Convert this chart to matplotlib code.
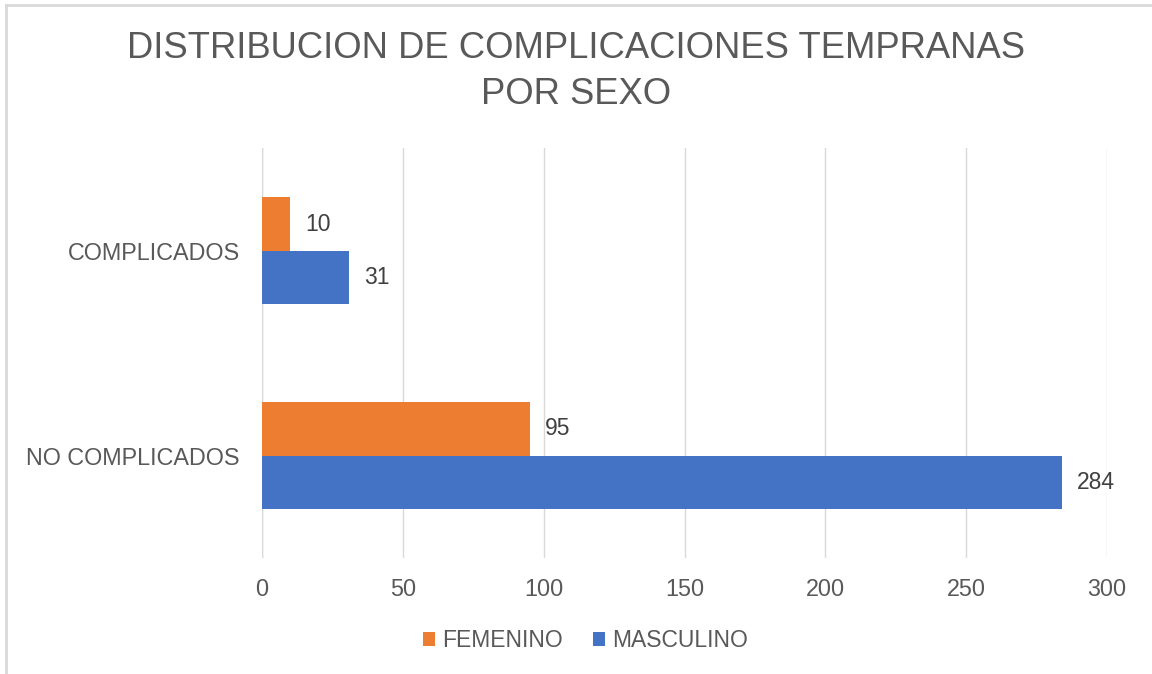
import numpy as np
import matplotlib.pyplot as plt
from matplotlib.lines import Line2D

plt.rcParams['font.family'] = ['Liberation Sans', 'DejaVu Sans']

categorias = ['COMPLICADOS', 'NO COMPLICADOS']
femenino = [10, 95]
masculino = [31, 284]
series = ['FEMENINO', 'MASCULINO']
colores = ['#ED7D31', '#4472C4']
gris = '#595959'

fig = plt.figure(figsize=(11.52, 6.74), dpi=100)
ax = fig.add_axes([0.2274, 0.172, 0.7336, 0.608])

y = np.arange(len(categorias))
h = 0.26
b1 = ax.barh(y - h / 2, femenino, height=h, color=colores[0], label=series[0])
b2 = ax.barh(y + h / 2, masculino, height=h, color=colores[1], label=series[1])

for bars in (b1, b2):
    for r in bars:
        ax.text(r.get_width() + 5.3, r.get_y() + r.get_height() / 2, str(int(r.get_width())),
                va='center', ha='left', fontsize=16.5, color='#404040')

ax.set_ylim(1.5, -0.5)
ax.set_xlim(0, 300)
ax.set_xticks(np.arange(0, 301, 50))
ax.set_yticks(y)
ax.set_yticklabels(categorias)
ax.tick_params(axis='both', length=0, labelsize=16.8, labelcolor=gris)
ax.tick_params(axis='x', pad=14)
ax.tick_params(axis='y', pad=16)
ax.grid(axis='x', color='#D9D9D9', linewidth=1)
ax.set_axisbelow(True)
for s in ax.spines.values():
    s.set_visible(False)
ax.axvline(0, color='#D9D9D9', linewidth=1, zorder=0)

fig.text(0.5, 0.894, 'DISTRIBUCION DE COMPLICACIONES TEMPRANAS\nPOR SEXO', ha='center', va='center',
         fontsize=26.2, color=gris, linespacing=1.42)

fig.legend(handles=[b1, b2], labels=series, loc='center', bbox_to_anchor=(0.508, 0.05), ncol=2,
           frameon=False, fontsize=16.5, labelcolor=gris, handlelength=0.55, handleheight=0.55,
           handletextpad=0.3, columnspacing=1.3)

# borde gris arriba e izquierda
fig.lines.append(Line2D([0.0048, 0.0048], [0, 0.992], transform=fig.transFigure, color='#D9D9D9', linewidth=2))
fig.lines.append(Line2D([0.0048, 1], [0.992, 0.992], transform=fig.transFigure, color='#D9D9D9', linewidth=2))

fig.savefig('out.png', dpi=100)
